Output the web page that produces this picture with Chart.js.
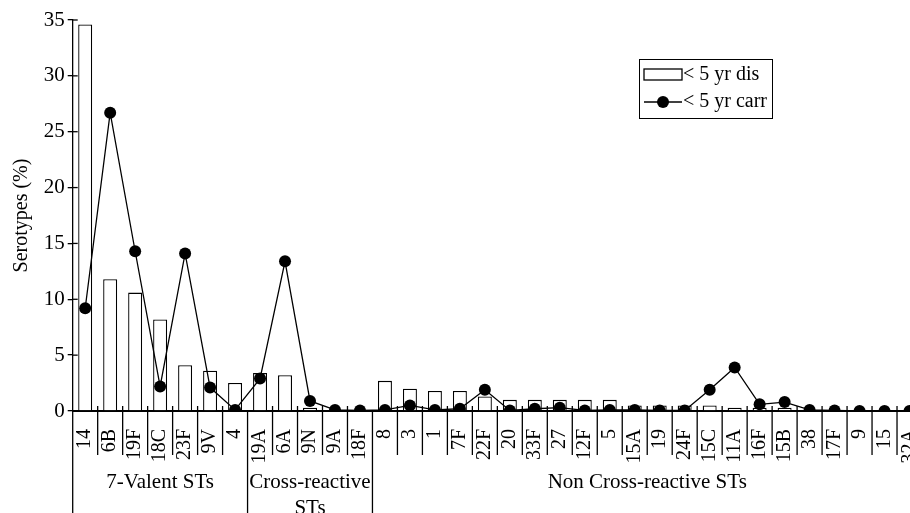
<!DOCTYPE html>
<html>
<head>
<meta charset="utf-8">
<script src="https://cdn.jsdelivr.net/npm/chart.js@4/dist/chart.umd.min.js"></script>
<style>
  html, body { margin: 0; padding: 0; background: #fff; overflow: hidden; }
  #wrap { width: 928px; height: 513px; }
</style>
</head>
<body>
<div id="wrap"><canvas id="c" width="928" height="513"></canvas></div>
<script>
// serotypes in plot order
const serotypes = ['14', '6B', '19F', '18C', '23F', '9V', '4', '19A', '6A', '9N', '9A', '18F',
    '8', '3', '1', '7F', '22F', '20', '33F', '27', '12F', '5', '15A', '19', '24F', '15C', '11A',
    '16F', '15B', '38', '17F', '9', '15', '32A'];

// groups below the axis and how many serotypes each one spans
const groupNames = ['7-Valent STs', ['Cross-reactive', 'STs'], 'Non Cross-reactive STs'];
const groupSizes = [7, 5, 22];

// < 5 yr disease (%)
const disease = [34.6, 11.8, 10.6, 8.2, 4.1, 3.6, 2.5, 3.4, 3.2, 0.3, 0, 0,
    2.7, 2.0, 1.8, 1.8, 1.3, 1.0, 1.0, 1.0, 1.0, 1.0, 0.5, 0.5, 0.5, 0.5, 0.3,
    0.3, 0.3, 0, 0, 0, 0, 0];

// < 5 yr carriage (%)
const carriage = [9.2, 26.7, 14.3, 2.2, 14.1, 2.1, 0.1, 2.9, 13.4, 0.9, 0.1, 0.05,
    0.1, 0.5, 0.1, 0.2, 1.9, 0.05, 0.2, 0.3, 0.05, 0.1, 0.1, 0.05, 0.05, 1.9, 3.9,
    0.6, 0.8, 0.1, 0.05, 0, 0, 0];

const yTicks = [0, 5, 10, 15, 20, 25, 30, 35];

const SERIF = '"Liberation Serif", "DejaVu Serif", serif';

// everything under the x axis + the in-plot legend
const extras = {
    id: 'extras',
    afterDraw(chart) {
        const ctx = chart.ctx;
        const xs = chart.scales.x, ys = chart.scales.y;
        const area = chart.chartArea;
        const H = chart.height;
        ctx.save();
        ctx.strokeStyle = '#000';
        ctx.lineWidth = 1.3;

        // small inner y ticks
        yTicks.forEach(v => {
            const y = ys.getPixelForValue(v);
            ctx.beginPath();
            ctx.moveTo(area.left, y);
            ctx.lineTo(area.left + 5, y);
            ctx.stroke();
        });

        // category separators + group boundaries
        const bounds = [0];
        groupSizes.forEach(s => bounds.push(bounds[bounds.length - 1] + s));
        const edge = i => {
            if (i <= 0) return area.left;
            if (i >= serotypes.length) return area.right;
            return (xs.getPixelForValue(i - 1) + xs.getPixelForValue(i)) / 2;
        };
        for (let i = 0; i < serotypes.length; i++) {
            const x = edge(i);
            ctx.beginPath();
            if (bounds.includes(i)) {
                ctx.moveTo(x, area.bottom);
                ctx.lineTo(x, H);
            } else {
                ctx.moveTo(x, area.bottom - 5);
                ctx.lineTo(x, area.bottom + 44);
            }
            ctx.stroke();
        }

        // group labels
        ctx.fillStyle = '#000';
        ctx.font = '21px ' + SERIF;
        ctx.textAlign = 'center';
        ctx.textBaseline = 'middle';
        groupNames.forEach((name, g) => {
            const cx = (edge(bounds[g]) + edge(bounds[g + 1])) / 2;
            const lines = Array.isArray(name) ? name : [name];
            lines.forEach((t, k) => ctx.fillText(t, cx, area.bottom + 71 + k * 26));
        });

        // legend
        const lx = 639, ly = 59, lw = 133, lh = 59;
        ctx.fillStyle = '#fff';
        ctx.fillRect(lx, ly, lw, lh);
        ctx.lineWidth = 1;
        ctx.strokeRect(lx + 0.5, ly + 0.5, lw, lh);
        ctx.lineWidth = 1.3;
        ctx.strokeRect(lx + 5, ly + 10, 38, 11);
        ctx.beginPath();
        ctx.moveTo(lx + 5, ly + 43);
        ctx.lineTo(lx + 43, ly + 43);
        ctx.stroke();
        ctx.beginPath();
        ctx.fillStyle = '#000';
        ctx.arc(lx + 24, ly + 43, 6, 0, Math.PI * 2);
        ctx.fill();
        ctx.font = '20px ' + SERIF;
        ctx.textAlign = 'left';
        ctx.fillText(chart.data.datasets[0].label, lx + 44, ly + 16);
        ctx.fillText(chart.data.datasets[1].label, lx + 44, ly + 43);
        ctx.restore();
    }
};

new Chart(document.getElementById('c'), {
    data: {
        labels: serotypes,
        datasets: [
            {
                type: 'bar',
                label: '< 5 yr dis',
                data: disease,
                backgroundColor: '#fff',
                borderColor: '#000',
                borderWidth: 1.3,
                categoryPercentage: 1,
                barPercentage: 0.56,
                order: 2
            },
            {
                type: 'line',
                label: '< 5 yr carr',
                data: carriage,
                borderColor: '#000',
                borderWidth: 1.3,
                backgroundColor: '#000',
                pointRadius: 6,
                pointHoverRadius: 6,
                pointBackgroundColor: '#000',
                pointBorderWidth: 0,
                tension: 0,
                order: 1
            }
        ]
    },
    options: {
        responsive: false,
        animation: false,
        devicePixelRatio: 1,
        layout: { padding: { top: 20, right: 2.6, left: 0, bottom: 0 } },
        plugins: { legend: { display: false }, tooltip: { enabled: false } },
        scales: {
            x: {
                grid: { display: false },
                border: { color: '#000', width: 2 },
                ticks: {
                    color: '#000',
                    font: { family: SERIF, size: 20 },
                    minRotation: 90,
                    maxRotation: 90,
                    autoSkip: false,
                    padding: 10
                },
                afterFit(s) { s.height = 102; s.paddingLeft = 0; s.paddingRight = 0; }
            },
            y: {
                min: 0,
                max: 35,
                afterBuildTicks(s) { s.ticks = yTicks.map(v => ({ value: v })); },
                grid: { drawOnChartArea: false, color: '#000', tickLength: 5, lineWidth: 1.3 },
                border: { color: '#000', width: 1.3 },
                ticks: {
                    color: '#000',
                    font: { family: SERIF, size: 21 },
                    padding: 3
                },
                title: {
                    display: true,
                    text: 'Serotypes (%)',
                    color: '#000',
                    font: { family: SERIF, size: 20 },
                    padding: { top: 10, bottom: 0 }
                },
                afterFit(s) { s.width = 72.7; s.paddingTop = 0; s.paddingBottom = 0; }
            }
        }
    },
    plugins: [extras]
});
</script>
</body>
</html>
